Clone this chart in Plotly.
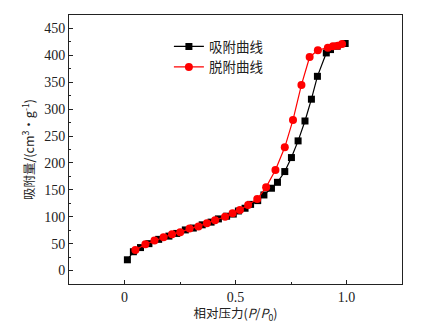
import plotly.graph_objects as go

ads_x = [0.013, 0.04, 0.072, 0.11, 0.154, 0.2, 0.235, 0.274, 0.31, 0.35, 0.39, 0.423, 0.46, 0.49, 0.513, 0.543, 0.568, 0.6, 0.628, 0.662, 0.689, 0.722, 0.752, 0.782, 0.813, 0.842, 0.869, 0.909, 0.928, 0.958, 0.994]
ads_y = [20, 35, 42.7, 50, 58, 64, 69, 75.5, 79, 85, 90, 96, 101, 105, 110.7, 115.8, 123, 130, 140.5, 153, 164, 184, 210, 241, 278, 318.5, 361, 404.5, 410.7, 417, 422]

des_x = [0.98, 0.961, 0.939, 0.916, 0.871, 0.834, 0.797, 0.759, 0.722, 0.68, 0.638, 0.598, 0.557, 0.52, 0.487, 0.453, 0.408, 0.371, 0.333, 0.293, 0.251, 0.214, 0.176, 0.135, 0.094, 0.049]
des_y = [421, 418, 417, 414, 409.5, 397, 345, 280, 229, 187, 155, 133, 122, 112.5, 106.5, 100, 93.5, 88, 82, 78, 71, 67.5, 62, 55.7, 49, 38]

x_ticks = [0, 0.5, 1.0]
x_ticktext = ["0", "0.5", "1.0"]
y_ticks = [0, 50, 100, 150, 200, 250, 300, 350, 400, 450]

fig = go.Figure()
fig.add_trace(go.Scatter(x=ads_x, y=ads_y, mode="lines+markers", name="吸附曲线",
                         line=dict(color="black", width=1.2),
                         marker=dict(symbol="square", size=7, color="black")))
fig.add_trace(go.Scatter(x=des_x, y=des_y, mode="lines+markers", name="脱附曲线",
                         line=dict(color="#ff0000", width=1.2),
                         marker=dict(symbol="circle", size=8, color="#ff0000")))

serif = "Liberation Serif, Times New Roman, serif"
cjk = "Noto Sans CJK SC, Liberation Serif"
tickfont = dict(family=serif, size=14, color="#222")
fig.update_layout(
    width=435, height=324,
    margin=dict(l=69, r=33, t=15, b=40),
    paper_bgcolor="white", plot_bgcolor="white",
    font=dict(family=serif, color="#222", size=13),
    legend=dict(x=0.3, y=0.94, xanchor="left", yanchor="top",
                bgcolor="rgba(0,0,0,0)", tracegroupgap=0,
                font=dict(family=cjk, size=13.5, color="#222")),
    xaxis=dict(range=[-0.25, 1.25], tickvals=x_ticks, ticktext=x_ticktext, tickfont=tickfont,
               ticks="inside", ticklen=4, tickcolor="#222", showline=True, linecolor="#222",
               linewidth=1, mirror=True, showgrid=False, zeroline=False, automargin=False,
               minor=dict(ticks="inside", ticklen=2, dtick=0.25, tick0=0, tickcolor="#222", showgrid=False),
               title=dict(text="相对压力(<i>P</i>/<i>P</i><sub>0</sub>)", standoff=4,
                          font=dict(family=cjk, size=12.5, color="#222"))),
    yaxis=dict(range=[-25, 475], tickvals=y_ticks, tickfont=tickfont,
               ticks="inside", ticklen=4, tickcolor="#222", showline=True, linecolor="#222",
               linewidth=1, mirror=True, showgrid=False, zeroline=False, automargin=False,
               minor=dict(ticks="inside", ticklen=2, dtick=25, tick0=0, tickcolor="#222", showgrid=False),
               title=dict(text="吸附量/(cm<sup>3</sup>·g<sup>-1</sup>)", standoff=6,
                          font=dict(family=cjk, size=12.5, color="#222"))),
)
fig.write_html("out.html")
